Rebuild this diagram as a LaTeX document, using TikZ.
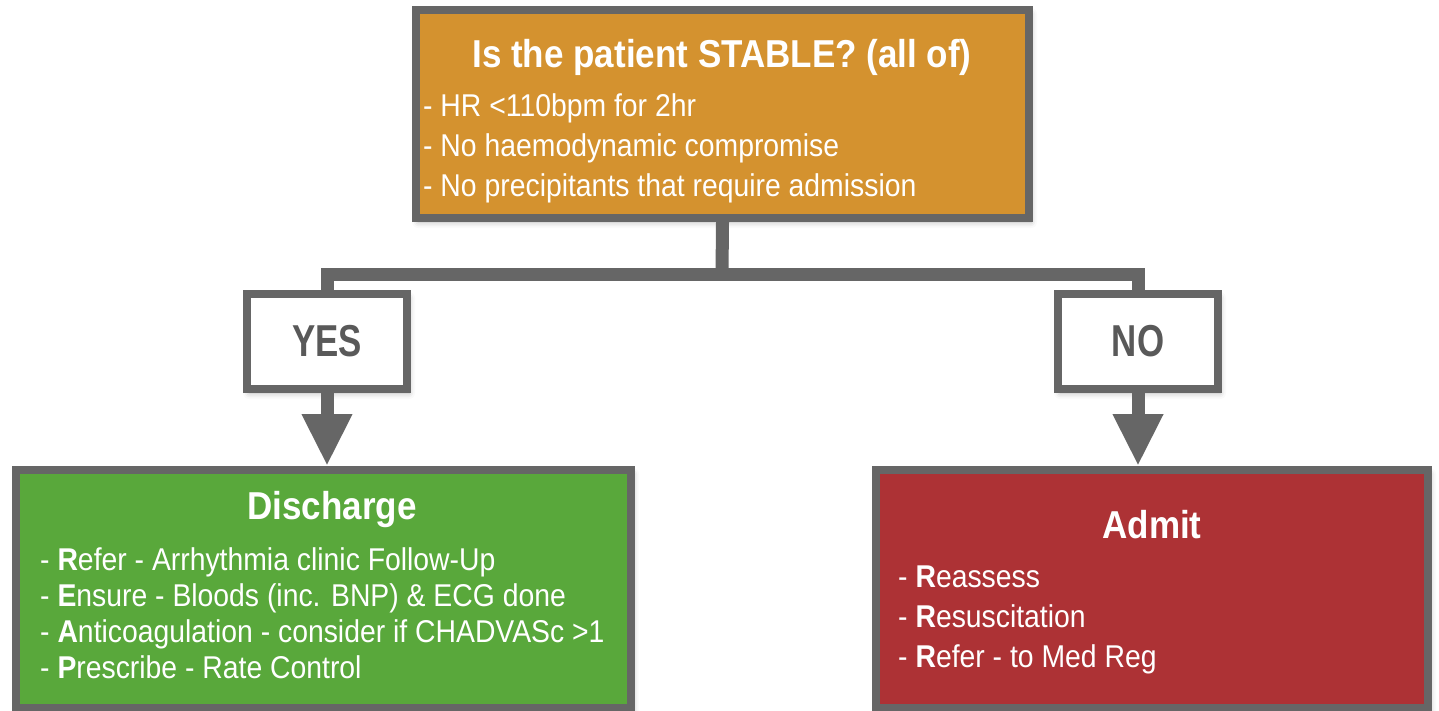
\documentclass[tikz,border=0pt]{standalone}
\usepackage{fontspec}
\setmainfont{Liberation Sans}[FakeStretch=0.9]
\newfontfamily\narrowfont{Liberation Sans}[FakeStretch=0.78]
\usetikzlibrary{arrows.meta,shadows.blur}

\definecolor{stableorange}{HTML}{D4922F}
\definecolor{dischargegreen}{HTML}{59A83B}
\definecolor{admitred}{HTML}{AD3235}
\definecolor{edgegray}{HTML}{666666}
\definecolor{answergray}{HTML}{595959}

\begin{document}
\begin{tikzpicture}[x=1pt,y=-1pt,>={Triangle[length=52pt,width=47pt]},
  card/.style={draw=edgegray,line width=8pt,inner sep=0pt,
    blur shadow={shadow xshift=2pt,shadow yshift=-4pt,shadow blur radius=6pt,shadow opacity=30}},
  heading/.style={text=white,inner sep=0pt,font=\bfseries\fontsize{38.9}{44}\selectfont},
  points/.style={text=white,anchor=west,align=left,inner sep=3pt},
  answer/.style={card,fill=white,minimum width=160pt,minimum height=95pt,
    text=answergray,font=\narrowfont\bfseries\fontsize{44.7}{50}\selectfont},
  link/.style={draw=edgegray,line width=13pt}]
  \useasboundingbox (0,0) rectangle (1439,710);

  % question
  \node[card,fill=stableorange,minimum width=613pt,minimum height=208pt] (stable) at (722.5,114) {};
  \node[heading] (stabletitle) at (722,57) {Is the patient STABLE? (all of)};
  \node[points,font=\fontsize{31.5}{40}\selectfont] (stablelist) at (420,148)
    {- HR <110bpm for 2hr\\- No haemodynamic compromise\\- No precipitants that require admission};

  % answers
  \node[answer] (yes) at (327,341.5) {YES};
  \node[answer] (no) at (1138,341.5) {NO};

  % outcomes
  \node[card,fill=dischargegreen,minimum width=615pt,minimum height=238pt] (discharge) at (323.5,589) {};
  \node[heading] (dischargetitle) at (332,510) {Discharge};
  \node[points,font=\fontsize{31.5}{36}\selectfont] (dischargelist) at (37,613)
    {- \textbf{R}efer - Arrhythmia clinic Follow-Up\\
     - \textbf{E}nsure - Bloods (inc. BNP) \& ECG done\\
     - \textbf{A}nticoagulation - consider if CHADVASc >1\\
     - \textbf{P}rescribe - Rate Control};

  \node[card,fill=admitred,minimum width=552pt,minimum height=238pt] (admit) at (1152,589) {};
  \node[heading] (admittitle) at (1152,525) {Admit};
  \node[points,font=\fontsize{31.5}{40}\selectfont] (admitlist) at (895,620)
    {- \textbf{R}eassess\\- \textbf{R}esuscitation\\- \textbf{R}efer - to Med Reg};

  % connectors
  \coordinate (fork) at (722,274.5);
  \draw[link] (stable.south) -- (fork);
  \draw[link] (yes.north) |- (fork) -| (no.north);
  \draw[link,->] (yes.south) -- (yes.south |- discharge.north);
  \draw[link,->] (no.south) -- (no.south |- admit.north);
\end{tikzpicture}
\end{document}
